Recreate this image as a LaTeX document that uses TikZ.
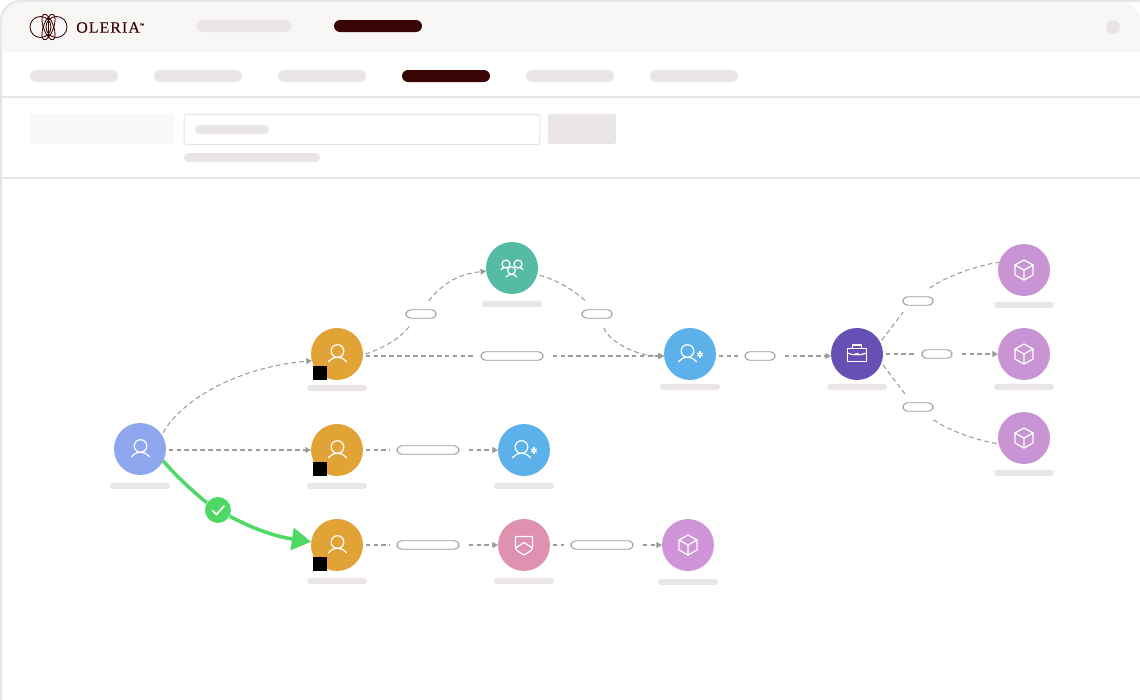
\documentclass[tikz,border=0pt]{standalone}
\usepackage{fontspec}
\usepackage{xcolor}
\usetikzlibrary{arrows.meta, positioning, calc}
\newfontfamily\logofont[LetterSpace=7,FakeBold=0.4]{Liberation Serif}
\definecolor{framegray}{RGB}{233, 229, 229}
\definecolor{topbar}{RGB}{248, 247, 245}
\definecolor{skeletongray}{RGB}{235, 230, 230}
\definecolor{softgray}{RGB}{249, 247, 247}
\definecolor{maroon}{RGB}{58, 5, 5}
\definecolor{edgegray}{RGB}{155, 155, 155}
\definecolor{checkgreen}{RGB}{78, 217, 100}
\definecolor{userblue}{RGB}{141, 166, 238}
\definecolor{ownerorange}{RGB}{226, 163, 54}
\definecolor{teamgreen}{RGB}{85, 187, 164}
\definecolor{adminblue}{RGB}{92, 177, 235}
\definecolor{casepurple}{RGB}{102, 80, 179}
\definecolor{boxpurple}{RGB}{201, 148, 211}
\definecolor{boxviolet}{RGB}{207, 149, 216}
\definecolor{shieldpink}{RGB}{223, 146, 176}
\tikzstyle{entity} = [circle, minimum size=1.04cm, inner sep=0, outer sep=0, text centered]
\tikzstyle{caption} = [rectangle, rounded corners=0.06cm, minimum width=1.2cm, minimum height=0.12cm, inner sep=0, outer sep=0, fill=skeletongray]
\tikzstyle{blackbox} = [rectangle, minimum size=0.28cm, inner sep=0, fill=black]
\tikzstyle{pill} = [rectangle, rounded corners=0.09cm, minimum width=0.6cm, minimum height=0.17cm, inner sep=0, outer sep=0.14cm, draw=edgegray, fill=white, line width=0.55pt]
\tikzstyle{longpill} = [pill, minimum width=1.24cm]
\tikzstyle{skeleton} = [rectangle, rounded corners=0.12cm, minimum width=1.76cm, minimum height=0.24cm, inner sep=0, fill=skeletongray]
\tikzstyle{darkbar} = [skeleton, fill=maroon]
\tikzstyle{link} = [draw=edgegray, line width=0.6pt, dash pattern=on 2.7pt off 1.8pt, shorten <=1.5pt]
\tikzstyle{arrow} = [link, -{Triangle[length=3.2pt,width=3.4pt]}]
\tikzstyle{passed} = [draw=checkgreen, line width=2pt]
\tikzstyle{icon} = [draw=white, line width=0.7pt, line cap=round, line join=round]
\tikzset{
  personicon/.pic={
    \draw [icon] (0.5,-3) circle (6.3);
    \draw [icon] (-8.5,7.8) .. controls (-5,3.8) and (-2,3.2) .. (0.5,3.2) .. controls (3,3.2) and (6,3.8) .. (9.5,7.8);
  },
  adminicon/.pic={
    \pic at (-3,0) {personicon};
    \draw [icon, line width=0.6pt] (10,0.5) circle (1.7);
    \foreach \a in {30,90,...,330}
      \draw [icon, line width=0.6pt] ($(10,0.5)+(\a:1.7)$) -- ($(10,0.5)+(\a:3)$);
  },
  teamicon/.pic={
    \draw [icon] (-6,-4) circle (4);
    \draw [icon] (6,-4) circle (4);
    \draw [icon] (-11,1.5) .. controls (-9,-1) and (-7,-1) .. (-4.5,-0.3);
    \draw [icon] (11,1.5) .. controls (9,-1) and (7,-1) .. (4.5,-0.3);
    \draw [icon] (-0.5,2.5) circle (3.8);
    \draw [icon] (-6,9) .. controls (-3,5.5) and (2,5.5) .. (5,9);
  },
  boxicon/.pic={
    \draw [icon] (0,-10) -- (9,-5) -- (9,5) -- (0,10) -- (-9,5) -- (-9,-5) -- cycle;
    \draw [icon] (-9,-5) -- (0,0) -- (9,-5) (0,0) -- (0,10);
  },
  caseicon/.pic={
    \draw [icon] (-9.5,-5.5) rectangle (9.5,7.5);
    \draw [icon] (-4.5,-5.5) -- (-4.5,-9) -- (4.5,-9) -- (4.5,-5.5);
    \draw [icon] (-9.5,-1) .. controls (-4,1.5) and (4,1.5) .. (9.5,-1);
    \draw [icon] (-1.5,0) -- (1.5,0);
  },
  shieldicon/.pic={
    \draw [icon] (-8.5,-8.5) -- (8.5,-8.5) -- (8.5,2) .. controls (8.5,6) and (3,8) .. (0,10) .. controls (-3,8) and (-8.5,6) .. (-8.5,2) -- cycle;
    \draw [icon] (-8.5,3) -- (0,-2.5) -- (8.5,3);
  },
  checkicon/.pic={
    \draw [icon, line width=1pt] (-5.5,0.5) -- (-1.5,4.5) -- (6,-4);
  },
}
\begin{document}
\begin{tikzpicture}[x=0.02cm, y=-0.02cm]
\useasboundingbox (0,0) rectangle (1140,700);

% Window
\fill [topbar, rounded corners=0.4cm] (1,80) -- (1,1) -- (1140,1) -- (1140,80) -- cycle;
\fill [white] (1,52) rectangle (1140,90);
\draw [framegray, line width=1.2pt, rounded corners=0.4cm] (1,700) -- (1,1) -- (1140,1);
\draw [framegray, line width=0.6pt] (2,97) -- (1140,97);
\draw [framegray, line width=0.6pt] (2,178) -- (1140,178);

% Logo
\foreach \x in {40.5,56.5}
  \draw [maroon, line width=0.5pt] (\x,27) circle (10.5);
\foreach \a in {-20,20}
  \draw [maroon, line width=0.5pt, rotate around={\a:(48.5,27)}] (48.5,27) ellipse (0.1cm and 0.27cm);
\draw [maroon, line width=0.8pt] (48.5,17) -- (48.5,37);
\node (logotext) [anchor=west, inner sep=0, text=maroon, font=\logofont\fontsize{9pt}{9pt}\selectfont] at (76,27.5) {OLERIA\raisebox{3.5pt}{\fontsize{2.4pt}{3pt}\selectfont ™}};

% Header bars
\node (menuone) [skeleton, minimum width=1.92cm] at (244,26) {};
\node (menutwo) [darkbar] at (378,26) {};
\node (menudot) [circle, minimum size=0.28cm, inner sep=0, fill=framegray] at (1113,27) {};
\foreach \x in {74,198,322,570,694}
  \node (tab\x) [skeleton] at (\x,76) {};
\node (tabactive) [darkbar] at (446,76) {};

% Search row
\node (searchlabel) [rectangle, rounded corners=0.05cm, minimum width=2.88cm, minimum height=0.6cm, inner sep=0, fill=softgray] at (102,129) {};
\node (searchbox) [rectangle, rounded corners=0.05cm, minimum width=7.12cm, minimum height=0.6cm, inner sep=0, draw=framegray, line width=0.6pt, fill=white] at (362,129.5) {};
\node (searchtext) [skeleton, minimum width=1.48cm, minimum height=0.18cm, rounded corners=0.09cm] at (232,129.5) {};
\node (searchbutton) [rectangle, rounded corners=0.05cm, minimum width=1.36cm, minimum height=0.6cm, inner sep=0, fill=skeletongray] at (582,129) {};
\node (searchhint) [skeleton, minimum width=2.72cm, minimum height=0.18cm, rounded corners=0.09cm] at (252,157.5) {};

% Entities
\node (user) [entity, fill=userblue] at (140,449) {};
\node (ownerone) [entity, fill=ownerorange] at (337,354) {};
\node (ownertwo) [entity, fill=ownerorange] at (337,450) {};
\node (ownerthree) [entity, fill=ownerorange] at (337,545) {};
\node (team) [entity, fill=teamgreen] at (512,268) {};
\node (adminone) [entity, fill=adminblue] at (690,354) {};
\node (admintwo) [entity, fill=adminblue] at (524,450) {};
\node (shield) [entity, fill=shieldpink] at (524,545) {};
\node (boxfour) [entity, fill=boxviolet] at (688,545) {};
\node (briefcase) [entity, fill=casepurple] at (857,354) {};
\node (boxone) [entity, fill=boxpurple] at (1024,270) {};
\node (boxtwo) [entity, fill=boxpurple] at (1024,354) {};
\node (boxthree) [entity, fill=boxpurple] at (1024,438) {};

% Captions
\foreach \n/\d in {user/0.16,ownerone/0.1,ownertwo/0.14,ownerthree/0.14,team/0.14,adminone/0.08,admintwo/0.14,shield/0.14,boxfour/0.16,briefcase/0.08,boxone/0.12,boxtwo/0.08,boxthree/0.12}
  \node (\n bar) [caption, below=\d cm of \n] {};

% Icons
\pic at (user) {personicon};
\pic at (ownerone) {personicon};
\pic at (ownertwo) {personicon};
\pic at (ownerthree) {personicon};
\pic at (team) {teamicon};
\pic at (adminone) {adminicon};
\pic at (admintwo) {adminicon};
\pic at (shield) {shieldicon};
\pic at (boxfour) {boxicon};
\pic at (briefcase) {caseicon};
\pic at (boxone) {boxicon};
\pic at (boxtwo) {boxicon};
\pic at (boxthree) {boxicon};

% Pills
\node (pillup) [pill] at (421,314) {};
\node (pilldown) [pill] at (597,314) {};
\node (pilllong) [longpill] at (512,356) {};
\node (pilladmin) [pill] at (760,356) {};
\node (pilltwo) [longpill] at (428,450) {};
\node (pillthree) [longpill] at (428,545) {};
\node (pillshield) [longpill] at (602,545) {};
\node (pillboxone) [pill] at (918,301) {};
\node (pillboxtwo) [pill] at (937,354) {};
\node (pillboxthree) [pill] at (918,407) {};

% Arrows
\draw [arrow] (user.33) .. controls +(22,-38) and +(-70,6) .. (ownerone.195);
\draw [arrow] (ownertwo -| user.east) -- (ownertwo);
\draw [link] (ownerone.-2) .. controls +(18,-6) and +(-10,14) .. (pillup.226);
\draw [arrow] (pillup.62) .. controls +(15,-18) and +(-30,3) .. (team.187);
\draw [link] (team.345) .. controls +(20,5) and +(-12,-12) .. (pilldown.131);
\draw [arrow] (pilldown.298) .. controls +(5,15) and +(-30,0) .. (pilllong -| adminone.west);
\draw [link] (pilllong -| ownerone.east) -- (pilllong);
\draw [arrow] (pilllong) -- (pilllong -| adminone.west);
\draw [link] (pilladmin -| adminone.east) -- (pilladmin);
\draw [arrow] (pilladmin) -- (pilladmin -| briefcase.west);
\draw [link] (briefcase.27) -- (pillboxone.217);
\draw [link] (pillboxone.50) .. controls +(15,-11) and +(-25,3) .. (boxone.163);
\draw [link] (briefcase) -- (pillboxtwo);
\draw [arrow] (pillboxtwo) -- (boxtwo);
\draw [link] (briefcase.-20) -- (pillboxthree.136);
\draw [link] (pillboxthree.320) .. controls +(15,11) and +(-25,-4) .. (boxthree.193);
\draw [link] (ownertwo) -- (pilltwo);
\draw [arrow] (pilltwo) -- (admintwo);
\draw [link] (ownerthree) -- (pillthree);
\draw [arrow] (pillthree) -- (shield);
\draw [link] (shield) -- (pillshield);
\draw [arrow] (pillshield) -- (boxfour);

% Green path
\node (check) [circle, minimum size=0.52cm, inner sep=0, fill=checkgreen] at (218,510) {};
\draw [passed] (user.-27) .. controls +(15,18) and +(-15,-10) .. (check);
\draw [passed, -{Triangle[length=11pt,width=12.5pt]}] (check) .. controls +(30,16) and +(-40,-6) .. (ownerthree.173);
\pic at (check) {checkicon};

% Black squares
\node (squareone) [blackbox] at ($(ownerone)+(-17.5,19)$) {};
\node (squaretwo) [blackbox] at ($(ownertwo)+(-17.5,19)$) {};
\node (squarethree) [blackbox] at ($(ownerthree)+(-17.5,19)$) {};

\end{tikzpicture}
\end{document}
